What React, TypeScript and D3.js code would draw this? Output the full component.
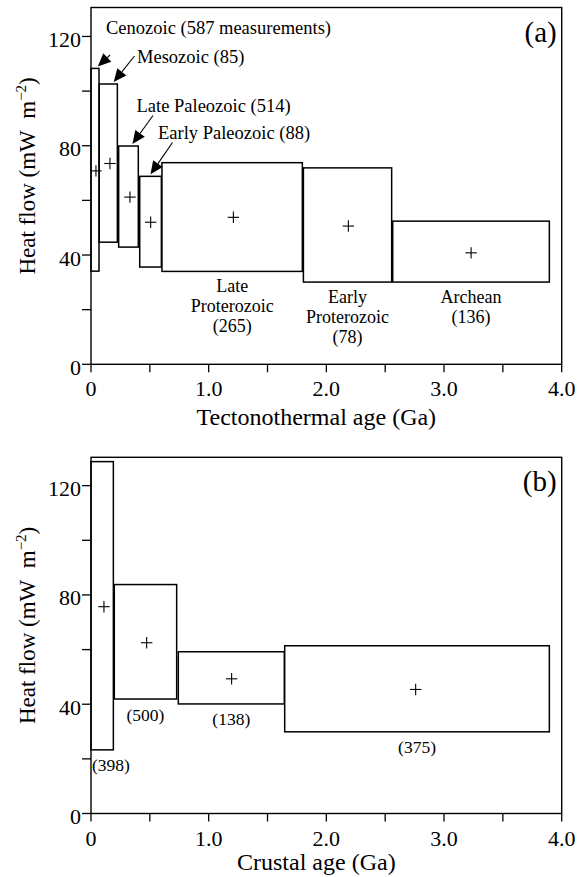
import React from "react";
import * as d3 from "d3";

// ---------- Panel (a): tectonothermal age ----------
const tectoNames = ["Cenozoic", "Mesozoic", "Late Paleozoic", "Early Paleozoic", "Late Proterozoic", "Early Proterozoic", "Archean"];
const tectoCounts = [587, 85, 514, 88, 265, 78, 136];
const tectoAgeStart = [0, 0.07, 0.235, 0.414, 0.603, 1.805, 2.564];
const tectoAgeEnd = [0.068, 0.224, 0.402, 0.598, 1.796, 2.555, 3.895];
const tectoHigh = [108.3, 102.6, 79.9, 68.8, 73.8, 71.9, 52.4];
const tectoLow = [34.1, 44.7, 42.9, 35.6, 34.0, 30.1, 30.1];
const tectoMeanAge = [0.042, 0.161, 0.331, 0.507, 1.21, 2.187, 3.23];
const tectoMeanFlow = [70.8, 73.5, 61.2, 52.0, 53.8, 50.6, 40.8];

// ---------- Panel (b): crustal age ----------
const crustCounts = [398, 500, 138, 375];
const crustAgeStart = [0, 0.198, 0.742, 1.646];
const crustAgeEnd = [0.19, 0.728, 1.643, 3.895];
const crustHigh = [128.8, 83.8, 59.2, 61.4];
const crustLow = [23.3, 41.9, 40.1, 29.9];
const crustMeanAge = [0.11, 0.473, 1.195, 2.759];
const crustMeanFlow = [75.7, 62.5, 49.3, 45.4];

// ---------- Axes ----------
const xMajorTicks = [0, 1, 2, 3, 4];
const xTickLabels = ["0", "1.0", "2.0", "3.0", "4.0"];
const xMinorTicks = [0.5, 1.5, 2.5, 3.5];
const yMajorTicks = [0, 40, 80, 120];
const yMinorTicks = [20, 60, 100];
const yMax = 130.6;

const FONT = "'Liberation Serif', 'Times New Roman', serif";

function Cross({ cx, cy }: { cx: number; cy: number }) {
  const a = 5.7;
  return (
    <g stroke="#000" strokeWidth={1.1}>
      <line x1={cx - a} x2={cx + a} y1={cy} y2={cy} />
      <line x1={cx} x2={cx} y1={cy - a} y2={cy + a} />
    </g>
  );
}

function Arrow({ x1, y1, x2, y2 }: { x1: number; y1: number; x2: number; y2: number }) {
  const dx = x2 - x1, dy = y2 - y1;
  const len = Math.hypot(dx, dy);
  const ux = dx / len, uy = dy / len;
  const hl = 13, hw = 5.8;
  const bx = x2 - ux * hl, by = y2 - uy * hl;
  const p = [
    [x2, y2],
    [bx - uy * hw, by + ux * hw],
    [bx + uy * hw, by - ux * hw],
  ];
  return (
    <g>
      {len > hl && <line x1={x1} y1={y1} x2={bx} y2={by} stroke="#000" strokeWidth={1.1} />}
      <polygon points={p.map((q) => q.join(",")).join(" ")} fill="#000" />
    </g>
  );
}

function Frame({ top, bottom, xTitle, letter, x, y, titleOffset }: any) {
  const left = x.range()[0];
  const right = x.range()[1];
  return (
    <g fontFamily={FONT} fill="#000">
      <rect x={left} y={top} width={right - left} height={bottom - top} fill="none" stroke="#000" strokeWidth={1.4} />
      {yMajorTicks.concat(yMinorTicks).map((v) => (
        <line key={"yt" + v} x1={left - 9} x2={left} y1={y(v)} y2={y(v)} stroke="#000" strokeWidth={1.3} />
      ))}
      {yMajorTicks.map((v) => (
        <text key={"yl" + v} x={left - 10} y={y(v) + 10.5} fontSize={22} textAnchor="end">
          {v}
        </text>
      ))}
      {xMajorTicks.concat(xMinorTicks).map((v) => (
        <line key={"xt" + v} x1={x(v)} x2={x(v)} y1={bottom} y2={bottom + 8} stroke="#000" strokeWidth={1.3} />
      ))}
      {xMajorTicks.map((v, i) => (
        <text key={"xl" + v} x={x(v)} y={bottom + 32} fontSize={22} textAnchor="middle">
          {xTickLabels[i]}
        </text>
      ))}
      <text x={(left + right) / 2 - 10} y={bottom + titleOffset} fontSize={24} textAnchor="middle">
        {xTitle}
      </text>
      <text transform={`translate(35,${(top + bottom) / 2 - 10}) rotate(-90)`} fontSize={23} textAnchor="middle">
        Heat flow (mW{"\u00a0\u00a0"}m
        <tspan dy={-9} fontSize={15}>−2</tspan>
        <tspan dy={9}>)</tspan>
      </text>
      <text x={right - 5} y={top + 34} fontSize={29} textAnchor="end">
        {letter}
      </text>
    </g>
  );
}

export default function App() {
  const W = 585, H = 877;
  const left = 91, right = 561.7;
  const x = d3.scaleLinear().domain([0, 4]).range([left, right]);

  const topA = 7.5, botA = 364.3;
  const yA = d3.scaleLinear().domain([0, yMax]).range([botA, topA]);
  const topB = 457.3, botB = 813.5;
  const yB = d3.scaleLinear().domain([0, yMax * ((botB - topB) / (botA - topA))]).range([botB, topB]);

  // annotation arrows (panel a), label at left top
  const annTextPos = [
    [106, 34],
    [137, 63],
    [136.5, 111.5],
    [158, 139],
  ];
  const annArrowStart = [
    [110, 55],
    [134.5, 56],
    [153, 115.5],
    [172.5, 142.5],
  ];
  const annTipFrac = [0.85, 0.8, 0.7, 0.5];

  const bottomLabels = [tectoNames[4].split(" "), tectoNames[5].split(" "), [tectoNames[6]]];

  return (
    <svg width={W} height={H} style={{ position: "absolute", left: 0, top: 0, background: "#fff" }}>
      <rect x={0} y={0} width={W} height={H} fill="#fff" />
      {/* Panel (a) */}
      {tectoNames.map((n, i) => (
        <rect
          key={n}
          x={x(tectoAgeStart[i])}
          y={yA(tectoHigh[i])}
          width={x(tectoAgeEnd[i]) - x(tectoAgeStart[i])}
          height={yA(tectoLow[i]) - yA(tectoHigh[i])}
          fill="#fff"
          stroke="#000"
          strokeWidth={1.5}
        />
      ))}
      {tectoNames.map((n, i) => (
        <Cross key={"c" + n} cx={x(tectoMeanAge[i])} cy={yA(tectoMeanFlow[i])} />
      ))}
      {tectoNames.slice(0, 4).map((n, i) => {
        const tipX = x(tectoAgeStart[i] + annTipFrac[i] * (tectoAgeEnd[i] - tectoAgeStart[i]));
        const tipY = yA(tectoHigh[i]) - 2;
        const label = i === 0 ? `${n} (${tectoCounts[i]} measurements)` : `${n} (${tectoCounts[i]})`;
        return (
          <g key={"ann" + n}>
            <text x={annTextPos[i][0]} y={annTextPos[i][1]} fontFamily={FONT} fontSize={18.5}>
              {label}
            </text>
            <Arrow x1={annArrowStart[i][0]} y1={annArrowStart[i][1]} x2={tipX} y2={tipY} />
          </g>
        );
      })}
      {bottomLabels.map((lines, k) => {
        const i = k + 4;
        const cx = (x(tectoAgeStart[i]) + x(tectoAgeEnd[i])) / 2;
        const y0 = yA(tectoLow[i]) + 21;
        const all = [...lines, `(${tectoCounts[i]})`];
        return (
          <text key={"bl" + i} fontFamily={FONT} fontSize={18} textAnchor="middle">
            {all.map((t, j) => (
              <tspan key={j} x={cx} y={y0 + j * 20}>
                {t}
              </tspan>
            ))}
          </text>
        );
      })}
      <Frame top={topA} bottom={botA} x={x} y={yA} xTitle="Tectonothermal age (Ga)" letter="(a)" titleOffset={61} />

      {/* Panel (b) */}
      {crustCounts.map((c, i) => (
        <rect
          key={"b" + i}
          x={x(crustAgeStart[i])}
          y={yB(crustHigh[i])}
          width={x(crustAgeEnd[i]) - x(crustAgeStart[i])}
          height={yB(crustLow[i]) - yB(crustHigh[i])}
          fill="#fff"
          stroke="#000"
          strokeWidth={1.5}
        />
      ))}
      {crustCounts.map((c, i) => (
        <Cross key={"bc" + i} cx={x(crustMeanAge[i])} cy={yB(crustMeanFlow[i])} />
      ))}
      {crustCounts.map((c, i) => {
        const cx = i === 0 ? x(crustAgeEnd[i]) - 2.5 : (x(crustAgeStart[i]) + x(crustAgeEnd[i])) / 2;
        return (
          <text key={"bn" + i} x={cx} y={yB(crustLow[i]) + 21.5} fontFamily={FONT} fontSize={17.5} textAnchor="middle">
            ({c})
          </text>
        );
      })}
      <Frame top={topB} bottom={botB} x={x} y={yB} xTitle="Crustal age (Ga)" letter="(b)" titleOffset={56.5} />
    </svg>
  );
}
